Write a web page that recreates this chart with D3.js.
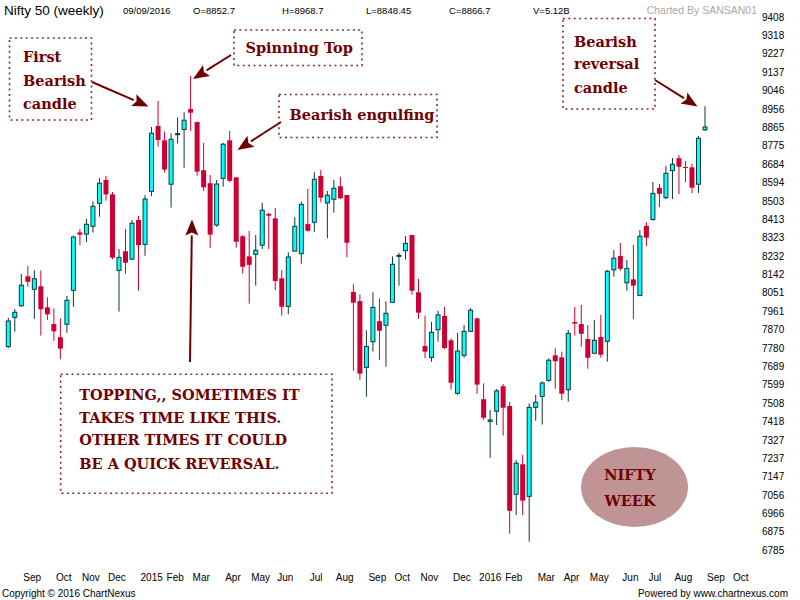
<!DOCTYPE html>
<html>
<head>
<meta charset="utf-8">
<script src="https://cdn.jsdelivr.net/npm/d3@7"></script>
<style>
  body { margin: 0; background: #fff; }
  svg { display: block; }
  .note { font-family: "DejaVu Serif", serif; font-weight: bold; fill: #6f0000; }
</style>
</head>
<body>
<div class="drawingboard"></div>
<script>
// weekly candles, first week starting Mon 18 Aug 2014
var firstWeek = "2014-08-18";

var opens = [7786,7930,7987,8132,8068,8083,7979,7897,7832,7896,
  8063,8348,8340,8378,8491,8606,8535,8161,8255,8216,
  8409,8289,8550,8872,8801,8585,8831,8855,8955,8891,
  8654,8590,8384,8614,8801,8619,8329,8230,8240,8285,
  8439,8417,8122,7984,8256,8243,8389,8398,8626,8493,
  8511,8575,8532,8055,8010,7684,7810,7911,7891,8004,
  8230,8258,8335,8053,7789,7733,7869,7937,7817,7556,
  7743,7861,7925,7527,7418,7468,7591,7494,7059,7207,
  7049,7487,7541,7620,7743,7733,7574,7907,7897,7823,
  7753,7833,7812,8164,8232,8100,8117,8038,8380,8411,
  8567,8519,8652,8713,8670,8668,8585,8852.7];

var highs = [7928,7971,8143,8183,8161,8161,8029,7974,7925,8035,
  8332,8365,8415,8501,8616,8626,8547,8266,8365,8409,
  8429,8531,8867,8995,8844,8836,8914,8940,9118,8893,
  8788,8630,8606,8789,8847,8620,8335,8355,8335,8494,
  8445,8467,8163,8250,8422,8499,8562,8644,8655,8552,
  8606,8622,8533,8093,8043,7866,8053,8024,8009,8230,
  8247,8330,8337,8119,7938,7907,7963,7981,7827,7853,
  7892,7976,7927,7605,7474,7577,7602,7513,7228,7253,
  7507,7548,7615,7728,7778,7761,7868,7981,7991,7892,
  7917,7942,8163,8261,8296,8212,8286,8360,8399,8596,
  8586,8675,8714,8729,8699,8685,8822,8968.7];

var lows = [7778,7859,7982,8081,7923,7840,7917,7815,7724,7854,
  7982,8286,8301,8347,8425,8504,8216,7958,8145,8212,
  8061,8233,8527,8770,8642,8470,8786,8666,8848,8627,
  8552,8270,8376,8573,8595,8273,8145,7997,8086,8266,
  8266,8065,7938,7945,8253,8194,8351,8351,8496,8319,
  8445,8512,8225,7667,7623,7539,7761,7720,7687,8002,
  8086,8214,8041,7923,7728,7712,7810,7774,7574,7548,
  7731,7859,7553,7425,7239,7400,7348,6865,6957,6957,
  6826,7421,7402,7613,7579,7523,7515,7840,7786,7677,
  7753,7731,7712,8130,8160,8061,7922,8038,8281,8406,
  8473,8512,8512,8537,8596,8542,8542,8848.45];

var closes = [7912,7955,8088,8105,8120,7970,7945,7861,7776,8014,
  8325,8337,8388,8476,8590,8535,8224,8225,8199,8393,
  8285,8512,8836,8803,8657,8806,8834,8900,8937,8647,
  8570,8337,8586,8782,8602,8302,8179,8188,8260,8457,
  8430,8109,7982,8227,8378,8486,8356,8609,8519,8531,
  8565,8516,8297,8002,7653,7787,7979,7864,7950,8191,
  8235,8294,8061,7953,7761,7856,7942,7779,7608,7764,
  7861,7965,7599,7436,7425,7568,7485,6978,7212,7028,
  7487,7512,7607,7719,7714,7554,7851,7899,7849,7731,
  7817,7746,8157,8221,8169,8171,8086,8329,8322,8540,
  8538,8639,8683,8671,8665,8568,8811,8866.7];

// month labels sit on the first week of each month
var monthWeeks = ["2014-09-01","2014-10-06","2014-11-03","2014-12-01","2015-01-05","2015-02-02",
  "2015-03-02","2015-04-06","2015-05-04","2015-06-01","2015-07-06","2015-08-03","2015-09-07",
  "2015-10-05","2015-11-02","2015-12-07","2016-01-04","2016-02-01","2016-03-07","2016-04-04",
  "2016-05-02","2016-06-06","2016-07-04","2016-08-01","2016-09-05","2016-10-03"];
var monthNames = ["Sep","Oct","Nov","Dec","2015","Feb","Mar","Apr","May","Jun","Jul","Aug","Sep",
  "Oct","Nov","Dec","2016","Feb","Mar","Apr","May","Jun","Jul","Aug","Sep","Oct"];

var priceTicks = [9408,9318,9227,9137,9046,8956,8865,8775,8684,8594,8503,8413,8323,8232,8142,
  8051,7961,7870,7780,7689,7599,7508,7418,7327,7237,7147,7056,6966,6875,6785];

var headerItems = ["09/09/2016","O=8852.7","H=8968.7","L=8848.45","C=8866.7","V=5.12B"];

var width = 800;
var height = 600;

var parse = d3.timeParse("%Y-%m-%d");
var start = parse(firstWeek);
var weeks = opens.map(function (d, i) { return d3.timeWeek.offset(start, i); });

var candles = weeks.map(function (w, i) {
    return { date: w, o: opens[i], h: highs[i], l: lows[i], c: closes[i] };
});

var x = d3.scaleTime()
    .domain([weeks[0], weeks[weeks.length - 1]])
    .range([8.3, 705]);

var y = d3.scaleLinear()
    .domain([6785, 9408])
    .range([550, 17]);

var svg = d3.select(".drawingboard")
    .append("svg")
    .attr("width", width)
    .attr("height", height)
    .style("font-family", "'Liberation Sans', Arial, sans-serif");

// header line
svg.append("text")
    .attr("x", 4).attr("y", 15)
    .style("font-size", "13.5px")
    .text("Nifty 50 (weekly)");

var headerX = [123, 193, 282, 366, 449, 533];
svg.selectAll(".hdr")
    .data(headerItems)
    .enter().append("text")
    .attr("class", "hdr")
    .attr("x", function (d, i) { return headerX[i]; })
    .attr("y", 14)
    .style("font-size", "9.5px")
    .text(function (d) { return d; });

svg.append("text")
    .attr("x", 757).attr("y", 14)
    .attr("text-anchor", "end")
    .style("font-size", "10.5px")
    .style("fill", "#a8a8a8")
    .text("Charted By SANSAN01");

// right price axis, no line
var yAxis = svg.append("g")
    .attr("transform", "translate(760,0)")
    .call(d3.axisRight(y).tickValues(priceTicks).tickSize(0).tickPadding(2).tickFormat(d3.format("d")));
yAxis.select(".domain").remove();
yAxis.selectAll("text")
    .style("font-size", "10px")
    .style("font-family", "'Liberation Sans', Arial, sans-serif")
    .attr("fill", "#000");

// month labels start at their week
svg.selectAll(".month")
    .data(monthWeeks)
    .enter().append("text")
    .attr("class", "month")
    .attr("x", function (d) { return x(parse(d)) + 2; })
    .attr("y", 581)
    .style("font-size", "10px")
    .text(function (d, i) { return monthNames[i]; });

svg.append("text")
    .attr("x", 2).attr("y", 597)
    .style("font-size", "10px")
    .text("Copyright \u00a9 2016 ChartNexus");
svg.append("text")
    .attr("x", 788).attr("y", 597)
    .attr("text-anchor", "end")
    .style("font-size", "10px")
    .text("Powered by www.chartnexus.com");

// candles
var up = "#00ffff", upLine = "#0b3838", down = "#cc0033";

var candle = svg.append("g").selectAll("g")
    .data(candles)
    .enter().append("g");

candle.append("line")
    .attr("x1", function (d) { return x(d.date); })
    .attr("x2", function (d) { return x(d.date); })
    .attr("y1", function (d) { return y(d.h); })
    .attr("y2", function (d) { return y(d.l); })
    .style("stroke", function (d) { return d.c >= d.o ? upLine : down; })
    .style("stroke-width", 1);

candle.append("rect")
    .attr("x", function (d) { return d.c >= d.o ? x(d.date) - 2 : x(d.date) - 2.5; })
    .attr("width", function (d) { return d.c >= d.o ? 4 : 5; })
    .attr("y", function (d) { return y(Math.max(d.o, d.c)); })
    .attr("height", function (d) { return Math.max(Math.abs(y(d.o) - y(d.c)), 1); })
    .style("fill", function (d) { return d.c >= d.o ? up : down; })
    .style("stroke", function (d) { return d.c >= d.o ? upLine : "none"; })
    .style("stroke-width", 1);

// annotations
var noteColor = "#6f0000";
var notes = svg.append("g");

function box(x0, y0, x1, y1) {
    notes.append("rect")
        .attr("x", x0).attr("y", y0)
        .attr("width", x1 - x0).attr("height", y1 - y0)
        .style("fill", "none")
        .style("stroke", "#8a2a2a")
        .style("stroke-width", 1.6)
        .style("stroke-dasharray", "2,3.4");
}

function lines(x0, ys, texts, size, anchor) {
    texts.forEach(function (t, i) {
        notes.append("text")
            .attr("class", "note")
            .attr("x", x0)
            .attr("y", ys[i])
            .attr("dy", "0.36em")
            .attr("text-anchor", anchor || "start")
            .style("font-size", size + "px")
            .text(t);
    });
}

function arrow(x0, y0, x1, y1) {
    var a = Math.atan2(y1 - y0, x1 - x0);
    var len = 16, half = 6.5;
    var bx = x1 - len * Math.cos(a), by = y1 - len * Math.sin(a);
    notes.append("line")
        .attr("x1", x0).attr("y1", y0)
        .attr("x2", bx).attr("y2", by)
        .style("stroke", noteColor)
        .style("stroke-width", 2);
    notes.append("path")
        .attr("d", "M" + x1 + "," + y1 +
            "L" + (bx + half * Math.sin(a)) + "," + (by - half * Math.cos(a)) +
            "L" + (bx + 3 * Math.cos(a)) + "," + (by + 3 * Math.sin(a)) +
            "L" + (bx - half * Math.sin(a)) + "," + (by + half * Math.cos(a)) + "Z")
        .style("fill", noteColor);
}

box(9.5, 38, 91.5, 120);
lines(23, [57, 80.7, 104], ["First", "Bearish", "candle"], 14.5);
arrow(92, 82, 148.5, 106.5);

box(234, 30, 362, 65.5);
lines(245.5, [47.7], ["Spinning Top"], 14.5);
arrow(231, 55, 193, 79);

box(279, 94.5, 437, 137.5);
lines(289.5, [114.3], ["Bearish engulfing"], 14.5);
arrow(281, 122, 237.5, 150);

box(563, 18.5, 655, 109);
lines(574, [41.7, 64, 87.3], ["Bearish", "reversal", "candle"], 14.5);
arrow(655, 80, 697.5, 106.5);

box(60.7, 374.3, 332, 493.3);
lines(79.3, [395, 417.3, 440, 463.3],
    ["TOPPING,, SOMETIMES IT", "TAKES TIME LIKE THIS.", "OTHER TIMES IT COULD", "BE A QUICK REVERSAL."], 14.5);
arrow(190, 362, 192, 219.5);

notes.append("ellipse")
    .attr("cx", 634.5).attr("cy", 487)
    .attr("rx", 53.5).attr("ry", 40)
    .style("fill", "#c09494");
lines(630, [475, 501], ["NIFTY", "WEEK"], 14.5, "middle");
</script>
</body>
</html>
